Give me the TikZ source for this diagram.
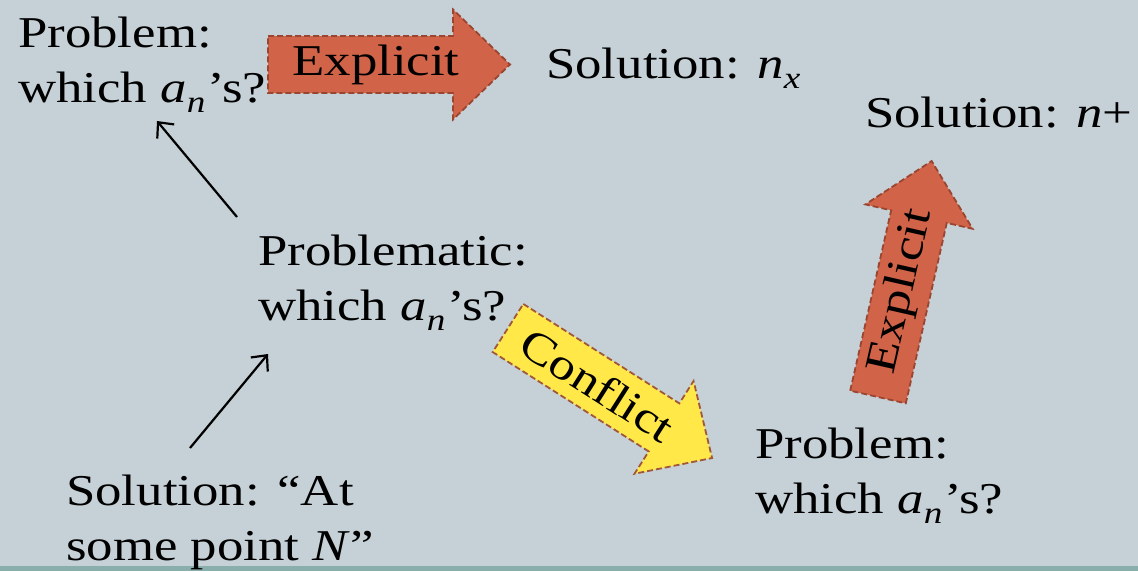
\documentclass[tikz,border=0pt]{standalone}
\usepackage{fontspec}
\setmainfont[FakeStretch=1.2]{Liberation Serif}
\usetikzlibrary{arrows.meta}
\definecolor{bgc}{HTML}{C5D1D7}
\definecolor{bandc}{HTML}{8AAEAC}
\definecolor{redfill}{HTML}{D16349}
\definecolor{redline}{HTML}{9A4530}
\definecolor{yelfill}{HTML}{FFE848}
\definecolor{yelline}{HTML}{A0573A}
\newcommand\subsc[1]{\raisebox{-0.24em}{\fontsize{31}{31}\selectfont\itshape #1}}
\begin{document}
\begin{tikzpicture}[x=1pt,y=-1pt,
  txt/.style={anchor=base west, inner sep=0pt, align=left, font=\fontsize{44}{55}\selectfont},
  bigarrow/.style={line width=1.8pt, dash pattern=on 6pt off 3pt},
  arrowtxt/.style={inner sep=0pt, font=\fontsize{44}{50}\selectfont, transform shape},
  conn/.style={draw, line width=2.2pt, -{Straight Barb[length=12pt,width=22pt]}}]
\fill[bgc] (0,0) rectangle (1138,571);
\fill[bandc] (0,566) rectangle (1138,571);
\useasboundingbox (0,0) rectangle (1138,571);

% texts (anchor = baseline of last line)
\node[txt] (p1) at (18,102) {Problem:\\which \textit{a}\subsc{n}\kern2pt’s?};
\node[txt] (s1) at (546,78) {Solution: \textit{n}\subsc{x}};
\node[txt] (s2) at (865,127) {Solution: \textit{n}+};
\node[txt] (pm) at (258,320) {Problematic:\\which \textit{a}\subsc{n}\kern2pt’s?};
\node[txt] (s0) at (66,560) {Solution: “At\\some point \textit{N}”};
\node[txt] (p2) at (755,513) {Problem:\\which \textit{a}\subsc{n}\kern2pt’s?};

% block arrows
\begin{scope}[shift={(268,64.5)}]
  \filldraw[bigarrow, fill=redfill, draw=redline] (0,-28.5) -- (185,-28.5) -- (185,-55) -- (242,0) -- (185,55) -- (185,28.5) -- (0,28.5) -- cycle;
  \node[arrowtxt] (e1) at (108,0) {Explicit};
\end{scope}
\begin{scope}[shift={(508,328)}, rotate=-32.5]
  \filldraw[bigarrow, fill=yelfill, draw=yelline] (0,-28.5) -- (185,-28.5) -- (185,-55) -- (242,0) -- (185,55) -- (185,28.5) -- (0,28.5) -- cycle;
  \node[arrowtxt] (cf) at (106,0) {Conflict};
\end{scope}
\begin{scope}[shift={(878,397)}, rotate=77.2]
  \filldraw[bigarrow, fill=redfill, draw=redline] (0,-28.5) -- (185,-28.5) -- (185,-55) -- (242,0) -- (185,55) -- (185,28.5) -- (0,28.5) -- cycle;
  \node[arrowtxt] (e2) at (108,0) {Explicit};
\end{scope}

% connectors
\coordinate (a1s) at (237,217);
\coordinate (a1e) at (157,121);
\coordinate (a2s) at (190,448);
\coordinate (a2e) at (268,354);
\draw[conn] (a1s) -- (a1e);
\draw[conn] (a2s) -- (a2e);
\end{tikzpicture}
\end{document}
